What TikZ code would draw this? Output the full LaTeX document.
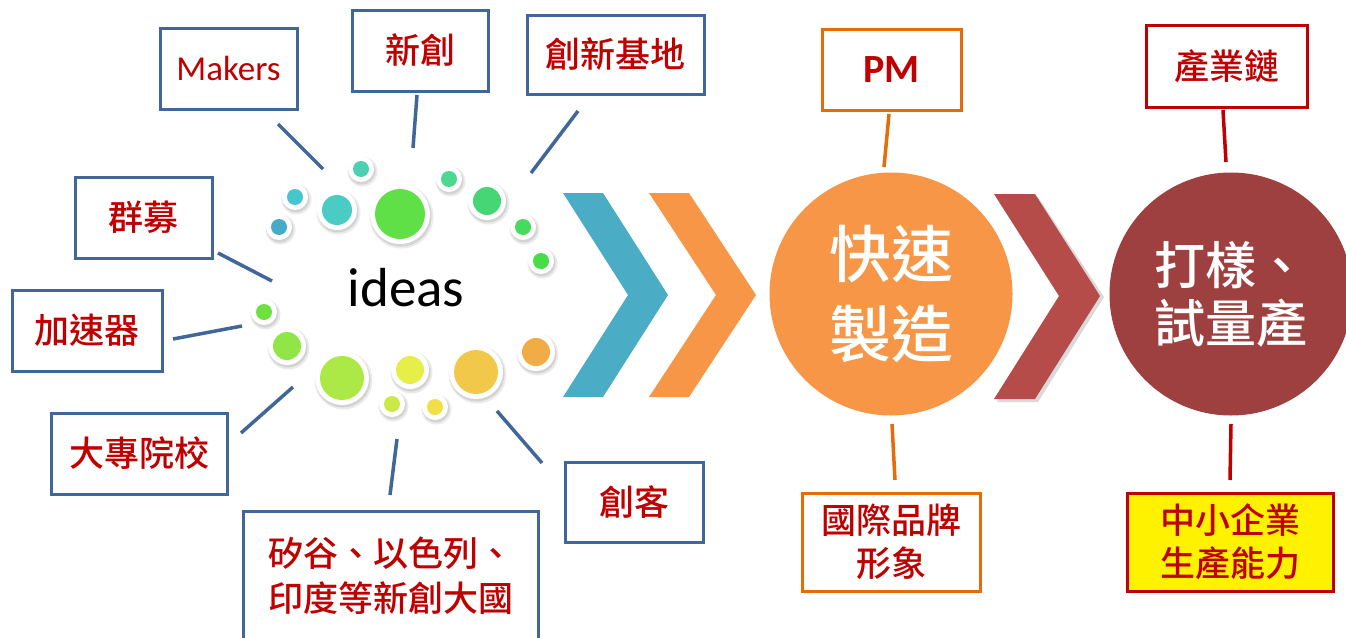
\documentclass[tikz,border=0pt]{standalone}
\usepackage{fontspec}
\setmainfont{Carlito}
\newfontfamily\cjk{Noto Sans CJK TC Medium}
\definecolor{boxblue}{HTML}{41679A}
\definecolor{txtred}{HTML}{C00000}
\definecolor{boxorange}{HTML}{E46C0A}
\definecolor{chevblue}{HTML}{4BACC6}
\definecolor{chevorange}{HTML}{F79646}
\definecolor{chevbrown}{HTML}{B64C4A}
\definecolor{circbrown}{HTML}{9E403F}
\definecolor{d1}{HTML}{4CD0B4}
\definecolor{d2}{HTML}{48C6CE}
\definecolor{d3}{HTML}{46AAC8}
\definecolor{d4}{HTML}{4ACCC4}
\definecolor{d5}{HTML}{5EE046}
\definecolor{d6}{HTML}{4CD890}
\definecolor{d7}{HTML}{46D676}
\definecolor{d8}{HTML}{46DA5E}
\definecolor{d9}{HTML}{46DE46}
\definecolor{d10}{HTML}{6EE042}
\definecolor{d11}{HTML}{90E646}
\definecolor{d12}{HTML}{ACE846}
\definecolor{d13}{HTML}{E6EE4A}
\definecolor{d14}{HTML}{CAE848}
\definecolor{d15}{HTML}{F2DE46}
\definecolor{d16}{HTML}{F2C84A}
\definecolor{d17}{HTML}{F2AC46}
\begin{document}
\begin{tikzpicture}[x=1pt,y=-1pt,
  bbox/.style={draw=boxblue, line width=3pt, fill=white, inner sep=0pt, text=txtred, align=center,
    font=\cjk\fontsize{35}{45}\selectfont},
  obox/.style={bbox, draw=boxorange, font=\cjk\fontsize{35}{43}\selectfont},
  rbox/.style={bbox, draw=txtred, font=\cjk\fontsize{35}{43}\selectfont},
  conn/.style={draw=boxblue, line width=3.5pt},
  oconn/.style={draw=boxorange, line width=3.5pt},
  rconn/.style={draw=txtred, line width=3.5pt},
  bigcirc/.style={circle, inner sep=0pt, minimum size=243pt, text=white, font=\cjk\fontsize{62}{80}\selectfont, align=center}
]
\useasboundingbox (0,0) rectangle (1346,637);
\fill[white] (0,0) rectangle (1346,637);

% dots around "ideas"
\foreach \x/\y/\r/\c in {361/169/8/d1, 295/197/8/d2, 279/227/8/d3, 337/210/15/d4, 400/214/25/d5,
  449/179/8/d6, 487/201/14/d7, 523/227/8/d8, 541/261/8/d9, 264/312/8/d10, 287/346/14/d11,
  342/378/22/d12, 410/370/14/d13, 392/404/8/d14, 435/407/8/d15, 476/372/22/d16, 536/352/14/d17}{
  \fill[black, opacity=0.08] (\x+1.5,\y+2.5) circle [radius=\r+7];
  \fill[black, opacity=0.10] (\x+1,\y+2) circle [radius=\r+5.5];
  \fill[white] (\x,\y) circle [radius=\r+5];
  \fill[\c] (\x,\y) circle [radius=\r];
}
\node[font=\fontsize{55}{60}\selectfont] (ideas) at (406,288) {ideas};

% chevrons
\fill[chevblue] (563,193) -- (603,193) -- (668,295) -- (603,397) -- (563,397) -- (628,295) -- cycle;
\fill[chevorange] (649,193) -- (689,193) -- (756,295) -- (689,397) -- (649,397) -- (716,295) -- cycle;
\fill[black, opacity=0.15] (997,197) -- (1038,197) -- (1104,297) -- (1038,402) -- (997,402) -- (1063,297) -- cycle;
\fill[chevbrown] (994,194) -- (1035,194) -- (1100,296) -- (1035,399) -- (994,399) -- (1059,296) -- cycle;

% big circles
\node[bigcirc, fill=chevorange] (fast) at (891,294) {快速\\製造};
\node[bigcirc, fill=circbrown, align=left, font=\cjk\fontsize{51}{58}\selectfont] (trial) at (1231,294) {打樣、\\試量產};

% left boxes
\node[bbox, minimum width=137pt, minimum height=81pt, font=\fontsize{35}{40}\selectfont] (makers) at (228.5,68.5) {Makers};
\node[bbox, minimum width=136pt, minimum height=81pt] (xinchuang) at (420,50.5) {新創};
\node[bbox, minimum width=177pt, minimum height=79pt] (jidi) at (615.5,54.5) {創新基地};
\node[bbox, minimum width=137pt, minimum height=81pt] (qunmu) at (143.5,217.5) {群募};
\node[bbox, minimum width=150pt, minimum height=81pt] (jiasu) at (87,330.5) {加速器};
\node[bbox, minimum width=176pt, minimum height=81pt] (daxue) at (139,453.5) {大專院校};
\node[bbox, minimum width=295pt, minimum height=129pt, align=left] (guigu) at (390.5,575.5) {矽谷、以色列、\\印度等新創大國};
\node[bbox, minimum width=138pt, minimum height=80pt] (chuangke) at (634,502) {創客};

% right boxes
\node[obox, minimum width=139pt, minimum height=81pt, font=\bfseries\fontsize{40}{44}\selectfont] (pm) at (891.5,69.5) {PM};
\node[obox, minimum width=178pt, minimum height=98pt] (brand) at (891,542) {國際品牌\\形象};
\node[rbox, minimum width=161pt, minimum height=82pt] (chain) at (1226.5,66) {產業鏈};
\node[rbox, fill=yellow, minimum width=206pt, minimum height=98pt] (sme) at (1230,542) {中小企業\\生產能力};

% connector end points
\coordinate (c1a) at (278,124);  \coordinate (c1b) at (323,169);
\coordinate (c2a) at (417,95);   \coordinate (c2b) at (413,148);
\coordinate (c3a) at (578,111);  \coordinate (c3b) at (531,173);
\coordinate (c4a) at (218,253);  \coordinate (c4b) at (272,281);
\coordinate (c5a) at (173,339);  \coordinate (c5b) at (242,326);
\coordinate (c6a) at (241,433);  \coordinate (c6b) at (293,387);
\coordinate (c7a) at (397,439);  \coordinate (c7b) at (390,495);
\coordinate (c8a) at (497,411);  \coordinate (c8b) at (542,463);
\coordinate (c9a) at (889,114);  \coordinate (c9b) at (884,167);
\coordinate (c10a) at (892,424); \coordinate (c10b) at (895,480);
\coordinate (c11a) at (1223,110); \coordinate (c11b) at (1226,162);
\coordinate (c12a) at (1231,424); \coordinate (c12b) at (1230,480);

\draw[conn] (c1a) -- (c1b);
\draw[conn] (c2a) -- (c2b);
\draw[conn] (c3a) -- (c3b);
\draw[conn] (c4a) -- (c4b);
\draw[conn] (c5a) -- (c5b);
\draw[conn] (c6a) -- (c6b);
\draw[conn] (c7a) -- (c7b);
\draw[conn] (c8a) -- (c8b);
\draw[oconn] (c9a) -- (c9b);
\draw[oconn] (c10a) -- (c10b);
\draw[rconn] (c11a) -- (c11b);
\draw[rconn] (c12a) -- (c12b);
\end{tikzpicture}
\end{document}
